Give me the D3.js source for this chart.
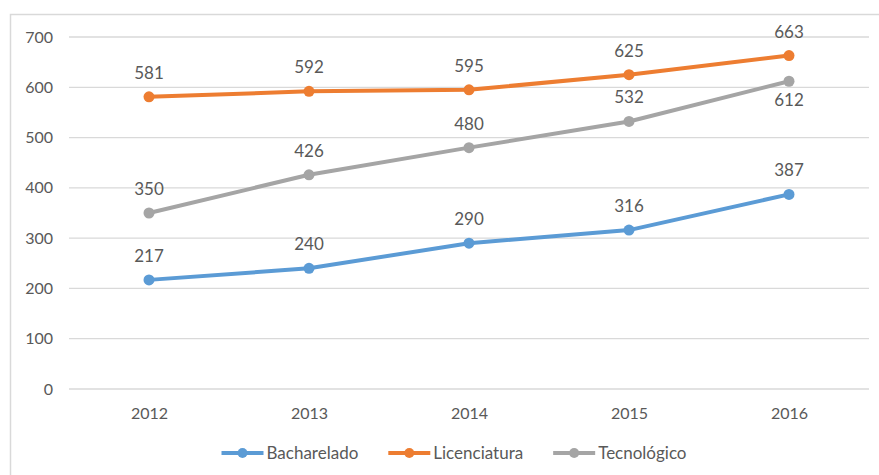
<!DOCTYPE html>
<html><head><meta charset="utf-8">
<script src="https://cdn.jsdelivr.net/npm/d3@7"></script>
<style>body{margin:0;background:#fff;} svg{display:block;}</style>
</head><body>
<svg id="chart" width="879" height="475"></svg>
<script>
const years = ["2012","2013","2014","2015","2016"];
const bacharelado = [217,240,290,316,387];
const licenciatura = [581,592,595,625,663];
const tecnologico = [350,426,480,532,612];
const yTicks = [0,100,200,300,400,500,600,700];
const seriesNames = ["Bacharelado","Licenciatura","Tecnológico"];
const seriesColors = ["#5B9BD5","#ED7D31","#A5A5A5"];
const labelBelow = [[false,false,false,false,false],[false,false,false,false,false],[false,false,false,false,true]];

const series = [bacharelado, licenciatura, tecnologico];
const svg = d3.select("#chart");
const font = "Lato, 'Open Sans', sans-serif";
const txt = "#595959";

svg.append("rect").attr("x",10.5).attr("y",14.5).attr("width",900).attr("height",500)
  .attr("fill","#fff").attr("stroke","#d9d9d9").attr("stroke-width",1.5);

const x = d3.scalePoint().domain(years).range([69,869]).padding(0.5);
const y = d3.scaleLinear().domain([0,700]).range([389,37]);

const grid = svg.append("g");
grid.selectAll("line").data(yTicks).join("line")
  .attr("x1",69).attr("x2",869).attr("y1",d=>y(d)).attr("y2",d=>y(d))
  .attr("stroke","#d9d9d9").attr("stroke-width",1.3);

const yAxis = svg.append("g").attr("transform","translate(69,0)")
  .call(d3.axisLeft(y).tickValues(yTicks).tickSize(0).tickPadding(16));
yAxis.select(".domain").remove();
yAxis.selectAll("text").attr("font-family",font).attr("font-size",16).attr("fill",txt);

const xAxis = svg.append("g").attr("transform","translate(0,389)")
  .call(d3.axisBottom(x).tickSize(0).tickPadding(19));
xAxis.select(".domain").remove();
xAxis.selectAll("text").attr("font-family",font).attr("font-size",16).attr("fill",txt);

const line = d3.line().x((d,i)=>x(years[i])).y(d=>y(d)).curve(d3.curveLinear);

series.forEach((s,si)=>{
  const g = svg.append("g");
  g.append("path").datum(s).attr("d",line).attr("fill","none")
    .attr("stroke",seriesColors[si]).attr("stroke-width",4).attr("stroke-linejoin","round");
  g.selectAll("circle").data(s).join("circle")
    .attr("cx",(d,i)=>x(years[i])).attr("cy",d=>y(d)).attr("r",5.5)
    .attr("fill",seriesColors[si]);
  g.selectAll("text").data(s).join("text")
    .attr("x",(d,i)=>x(years[i]))
    .attr("y",(d,i)=>labelBelow[si][i] ? y(d)+25 : y(d)-18)
    .attr("text-anchor","middle").attr("font-family",font).attr("font-size",17)
    .attr("fill",txt).text(d=>d);
});

// legend: laid out from measured text widths, centred
const lg = svg.append("g");
const gy = 453, lineW = 42, textGap = 3, entryGap = 30;
const entries = seriesNames.map((n,i)=>{
  const g = lg.append("g");
  g.append("line").attr("x1",0).attr("x2",lineW).attr("y1",gy).attr("y2",gy)
    .attr("stroke",seriesColors[i]).attr("stroke-width",4);
  g.append("circle").attr("cx",lineW/2).attr("cy",gy).attr("r",5).attr("fill",seriesColors[i]);
  const t = g.append("text").attr("x",lineW+textGap).attr("y",gy+6).attr("font-family",font)
    .attr("font-size",17).attr("fill",txt).text(n);
  return {g, w: lineW+textGap+t.node().getComputedTextLength()};
});
const total = d3.sum(entries,e=>e.w) + entryGap*(entries.length-1);
let cx = 454 - total/2;
entries.forEach(e=>{ e.g.attr("transform",`translate(${cx},0)`); cx += e.w + entryGap; });
</script>
</body></html>
